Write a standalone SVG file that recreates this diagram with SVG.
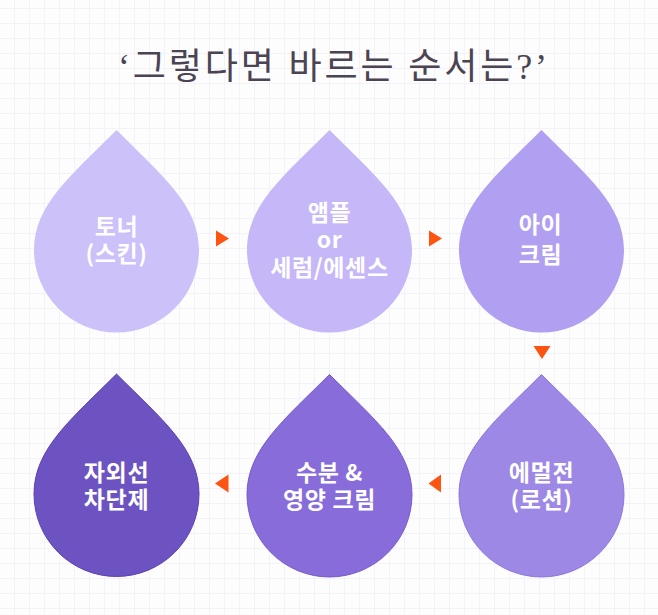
<svg xmlns="http://www.w3.org/2000/svg" width="658" height="615" viewBox="0 0 658 615">
  <style>
    .title { font-family: "Liberation Serif", "Noto Sans CJK KR", serif; font-size: 36px; font-weight: 400; fill: #4b4452; }
    .lbl { font-family: "Noto Sans CJK KR", "Noto Sans", sans-serif; font-size: 23px; font-weight: 700; letter-spacing: 0.6px; fill: #ffffff; text-anchor: middle; }
    .arrow { fill: #fd5412; }
    .grid { stroke: #f3f2f7; stroke-width: 1; fill: none; }
  </style>
  <defs>
    <pattern id="gridPat" x="14" y="8" width="15" height="15" patternUnits="userSpaceOnUse">
      <path class="grid" d="M0.5 0 V15 M0 0.5 H15"/>
    </pattern>
    <path id="drop" d="M0 -120 C -45 -75 -82.5 -45 -82.5 0 A 82.5 82.5 0 0 0 82.5 0 C 82.5 -45 45 -75 0 -120 Z"/>
  </defs>

  <rect width="658" height="615" fill="#fdfdfe"/>
  <rect width="658" height="615" fill="url(#gridPat)"/>

  <text class="title" x="118" y="79" textLength="429" lengthAdjust="spacing">‘그렇다면 바르는 순서는?’</text>

  <g id="node-toner">
    <use href="#drop" transform="translate(116.5 250)" fill="#cdc1fa"/>
    <text class="lbl" x="116.5" y="234.5">토너<tspan x="116.5" dy="27">(스킨)</tspan></text>
  </g>

  <g id="node-ampoule">
    <use href="#drop" transform="translate(329.5 250)" fill="#c5b7f8"/>
    <text class="lbl" x="329.5" y="221">앰플<tspan x="329.5" dy="27">or</tspan><tspan x="329.5" dy="28">세럼/에센스</tspan></text>
  </g>

  <g id="node-eyecream">
    <use href="#drop" transform="translate(541.5 250)" fill="#b19ff1"/>
    <text class="lbl" x="540.5" y="233">아이<tspan x="540.5" dy="30">크림</tspan></text>
  </g>

  <g id="node-emulsion">
    <use href="#drop" transform="translate(541.5 494.5)" fill="#9d88e6" stroke="#8c76dc" stroke-width="1"/>
    <text class="lbl" x="541.5" y="481">에멀전<tspan x="541.5" dy="27">(로션)</tspan></text>
  </g>

  <g id="node-moisture">
    <use href="#drop" transform="translate(329.5 494.5)" fill="#876cda" stroke="#7659cf" stroke-width="1"/>
    <text class="lbl" x="329.5" y="481">수분 &amp;<tspan x="329.5" dy="27">영양 크림</tspan></text>
  </g>

  <g id="node-sunscreen">
    <use href="#drop" transform="translate(116.5 494)" fill="#6c53c1" stroke="#5b40b4" stroke-width="1"/>
    <text class="lbl" x="116.5" y="480.5">자외선<tspan x="116.5" dy="27.5">차단제</tspan></text>
  </g>

  <g id="connectors">
    <polygon class="arrow" points="216,230.5 229,238.5 216,246.5"/>
    <polygon class="arrow" points="429,230.5 442,238.5 429,246.5"/>
    <polygon class="arrow" points="533.5,346 550.5,346 542,359"/>
    <polygon class="arrow" points="441,474.5 428.5,483.5 441,492.5"/>
    <polygon class="arrow" points="228.5,474.5 215,483.5 228.5,492.5"/>
  </g>
</svg>
